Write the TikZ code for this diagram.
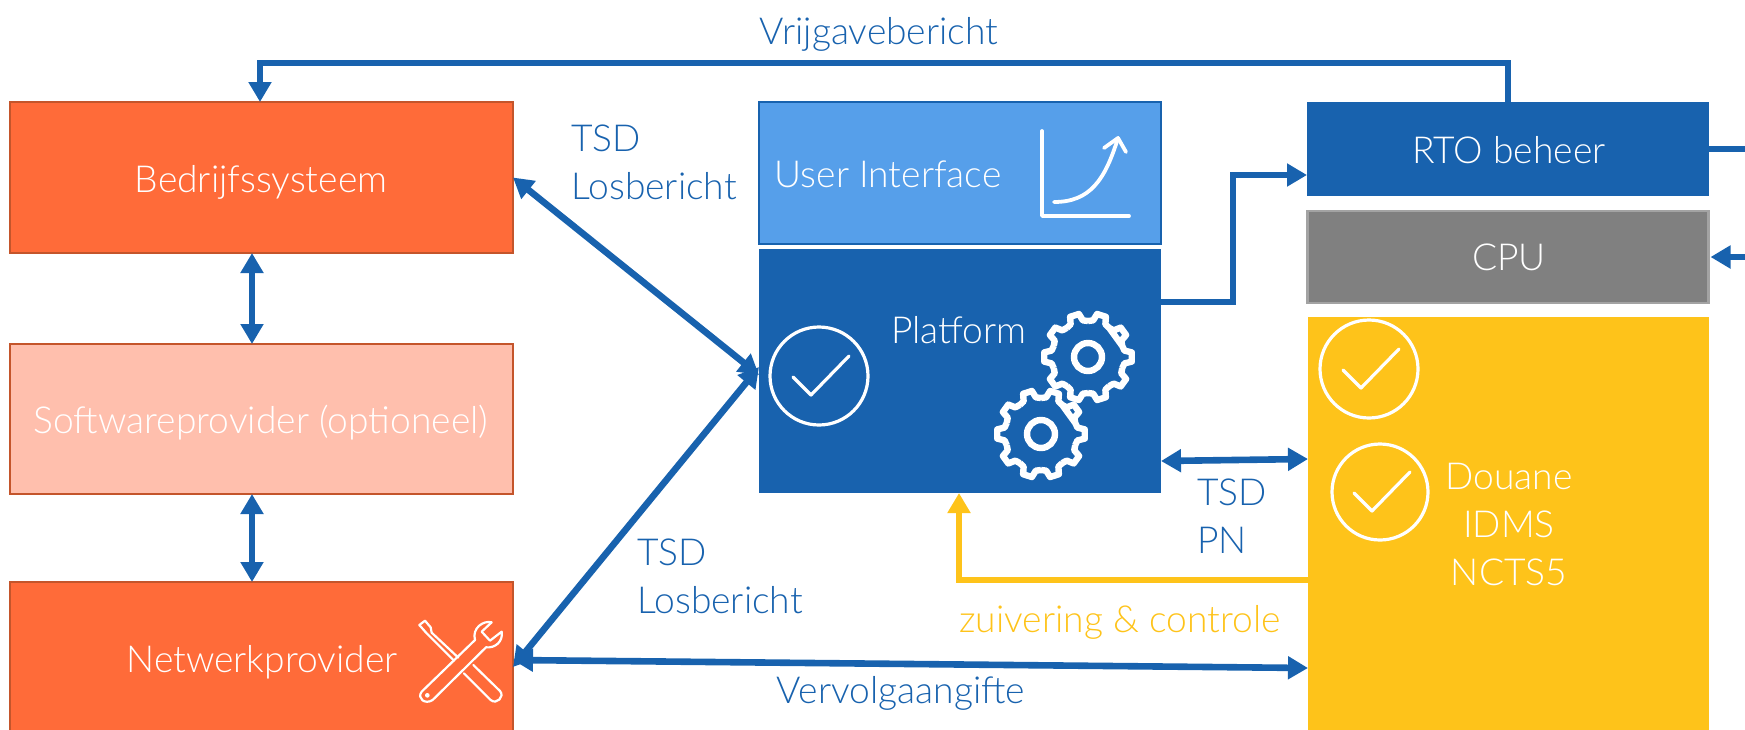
\documentclass[tikz,border=0pt]{standalone}
\usepackage{fontspec}
\setmainfont{Lato Light}
\usetikzlibrary{arrows.meta,calc}
\definecolor{dblue}{HTML}{1862AE}
\definecolor{lblue}{HTML}{569FEA}
\definecolor{orng}{HTML}{FF6B39}
\definecolor{orngb}{HTML}{C4552B}
\definecolor{pale}{HTML}{FFBFAD}
\definecolor{grayf}{HTML}{808080}
\definecolor{grayb}{HTML}{A3A3A3}
\definecolor{yell}{HTML}{FEC31A}
\tikzset{
  box/.style={rectangle,inner sep=0pt,outer sep=0pt,line width=1pt},
  wlabel/.style={text=white,font=\fontsize{18.6}{24}\selectfont,inner sep=0pt,align=center},
  blabel/.style={text=dblue,font=\fontsize{18.6}{24}\selectfont,inner sep=0pt},
  conn/.style={dblue,line width=3.3pt},
  both/.style={conn,{Triangle[length=10pt,width=11pt]}-{Triangle[length=10pt,width=11pt]}},
  tohead/.style={conn,-{Triangle[length=10pt,width=11pt]}},
  icon/.style={draw=white,line width=1.6pt,line cap=round,line join=round},
}
\newcommand{\checkcircle}[3]{%
  \draw[icon] (#1,#2) circle[radius=#3];
  \draw[icon] (#1-26,#2+1) -- (#1-8,#2+19) -- (#1+30,#2-20);
}
\newcommand{\gearicon}[2]{%
  \begin{scope}[shift={(#1,#2)}]
    \draw[draw=white,fill=dblue,line width=3.2pt,line join=round]
      \foreach \a in {0,36,...,324} {
        (\a-18:36) -- (\a-10:37) -- (\a-6:44) -- (\a+6:44) -- (\a+10:37) -- (\a+18:36)
      } -- cycle;
    \draw[draw=white,line width=3.2pt] (0,0) circle[radius=14];
  \end{scope}
}
\begin{document}
\begin{tikzpicture}[x=0.5pt,y=-0.5pt]
\useasboundingbox (0,0) rectangle (1745,729);
\begin{scope}
\clip (0,0) rectangle (1745,729);
% boxes
\node[box,draw=orngb,fill=orng,minimum width=503*0.5pt,minimum height=151*0.5pt] (bedrijf) at (261.5,177.5) {};
\node[box,draw=orngb,fill=pale,minimum width=503*0.5pt,minimum height=150*0.5pt] (soft) at (261.5,419) {};
\node[box,draw=orngb,fill=orng,minimum width=503*0.5pt,minimum height=160*0.5pt] (netw) at (261.5,662) {};
\node[box,draw=dblue,fill=lblue,minimum width=402*0.5pt,minimum height=142*0.5pt] (ui) at (960,173) {};
\node[box,fill=dblue,minimum width=402*0.5pt,minimum height=244*0.5pt] (platform) at (960,371) {};
\node[box,fill=dblue,minimum width=402*0.5pt,minimum height=94*0.5pt] (rto) at (1508,149) {};
\node[box,draw=grayb,fill=grayf,line width=1.2pt,minimum width=401*0.5pt,minimum height=92*0.5pt] (cpu) at (1508,257) {};
\node[box,fill=yell,minimum width=401*0.5pt,minimum height=420*0.5pt] (douane) at (1508.5,527) {};
\end{scope}
% connectors
\coordinate (topleft) at (260,63);
\coordinate (topright) at (1508,63);
\coordinate (rightA) at (1745,149);
\coordinate (rightB) at (1745,257);
\coordinate (elbowA) at (1233,302);
\coordinate (elbowB) at (1233,175);
\coordinate (elbowC) at (959,580);
\draw[tohead] (rto.north -| topright) -- (topright) -- (topleft) -- (topleft |- bedrijf.north);
\draw[conn] (rto.east) -- (rightA);
\draw[tohead] (rightB) -- ([xshift=1pt]cpu.east);
\draw[tohead] (platform.east |- elbowA) -- (elbowA) -- (elbowB) -- (rto.west |- elbowB);
\draw[both] (1161,461) coordinate (pd1) (pd1) -- (1308,459) coordinate (pd2);
\draw[tohead,yell] (douane.west |- elbowC) -- (elbowC) -- (elbowC |- platform.south);
\draw[both] (bedrijf.east) -- ([yshift=-2pt]platform.west);
\draw[both] ([yshift=2pt]platform.west) -- ([yshift=-2.5pt]netw.east);
\draw[both] ([yshift=1pt]netw.east) -- (1308,668) coordinate (nd);
\draw[both] (252,253) coordinate (v1) (v1) -- (252,344) coordinate (v2);
\draw[both] (252,494) coordinate (v3) (v3) -- (252,582) coordinate (v4);
% box labels
\node[wlabel] (lbedrijf) at (261,182) {Bedrijfssysteem};
\node[wlabel] (lsoft) at (261,423) {Softwareprovider (optioneel)};
\node[wlabel] (lnetw) at (262,662) {Netwerkprovider};
\node[wlabel] (lui) at (888,174) {User Interface};
\node[wlabel] (lplat) at (959,330) {Platform};
\node[wlabel] (lrto) at (1509,150) {RTO beheer};
\node[wlabel] (lcpu) at (1509,257) {CPU};
\node[wlabel] (ldou) at (1509,524) {Douane\\IDMS\\NCTS5};
% connector labels
\node[blabel] (lvrij) at (879,34) {Vrijgavebericht};
\node[blabel,anchor=north west,align=left] (ltsd1) at (571,124) {TSD\\Losbericht};
\node[blabel,anchor=north west,align=left] (ltsd2) at (637,538) {TSD\\Losbericht};
\node[blabel,anchor=north west,align=left] (ltsd3) at (1197,478) {TSD\\PN};
\node[blabel,text=yell] (lzuiv) at (1120,622) {zuivering \& controle};
\node[blabel] (lverv) at (901,693) {Vervolgaangifte};
% icons
\checkcircle{819}{376}{49}
\checkcircle{1369}{369}{49}
\checkcircle{1380}{492}{48}
\gearicon{1088}{357}
\gearicon{1041}{434}
% chart
\draw[icon,line width=1.9pt] (1042,131) -- (1042,216) -- (1129,216);
\draw[icon,line width=1.9pt] (1054,202) .. controls (1090,202) and (1105,180) .. (1118,138);
\draw[icon,line width=1.9pt] (1104,148) -- (1118,138) -- (1126,152);
% tools
\begin{scope}[shift={(380,590)},x=0.5pt/3,y=-0.5pt/3]
\draw[icon,line width=1.1pt] (118,105) -- (135,92) -- (152,112) -- (155,128) -- (235,203);
\draw[icon,line width=1.1pt] (118,105) -- (140,130) -- (222,212);
\draw[icon,line width=1.1pt] (280,225) -- (360,303) .. controls (375,320) and (350,345) .. (332,330) -- (252,250);
\draw[icon,line width=1.1pt] (125,305) -- (285,150) .. controls (275,115) and (310,90) .. (335,97) -- (305,125) -- (330,152) -- (365,125) .. controls (370,155) and (345,175) .. (318,172) -- (158,330) .. controls (135,345) and (110,325) .. (125,305) -- cycle;
\fill[white] (142,316) circle[radius=7];
\end{scope}
\end{tikzpicture}
\end{document}
